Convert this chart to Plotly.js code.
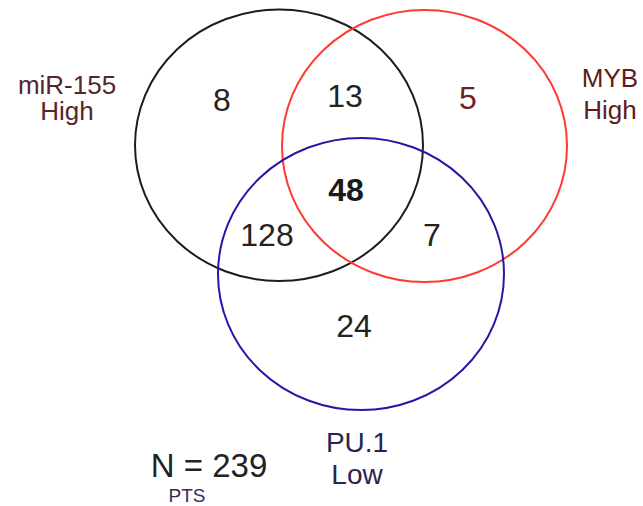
<!DOCTYPE html>
<html>
<head>
<meta charset="utf-8">
<script src="https://cdn.plot.ly/plotly-3.0.1.min.js"></script>
<style>html,body{margin:0;padding:0;background:#fff;}#chart{width:643px;height:506px;}</style>
</head>
<body>
<div id="chart"></div>
<script>
// ---- data ----
const setNames = ['miR-155', 'MYB', 'PU.1'];
const setLevels = ['High', 'High', 'Low'];
const regionNames = ['miR-155 only', 'miR-155 & MYB', 'MYB only', 'miR-155 & PU.1', 'all three', 'MYB & PU.1', 'PU.1 only'];
const regionCounts = [8, 13, 5, 128, 48, 7, 24];
const totalPatients = 239;
const totalLabel = 'N';
const totalSubscript = 'PTS';

// ---- layout (positions / styles) ----
const font = 'Liberation Sans, Arial, sans-serif';
const circleGeom = [ // [x0, y0, x1, y1] in plot pixel units
  [135, 9.5, 423, 281],
  [282, 10, 567, 282],
  [218, 138, 504, 410]
];
const circleColors = ['#1c1c1c', '#ff3b30', '#2b14a3'];
const regionPos = {x: [222, 345, 468, 267, 346, 432, 354], y: [103, 99, 101, 238, 193, 238, 329]};
const regionColors = ['#232323', '#232323', '#6e2222', '#232323', '#1a1a1a', '#232323', '#232323'];
const setLabelPos = [ {x: 67, y1: 87, y2: 113}, {x: 610, y1: 80, y2: 112}, {x: 357, y1: 445, y2: 477} ];
const setLabelColors = ['#55262a', '#5e1c1c', '#2a2550'];
const setLabelSizes = [26, 26, 28];

const traces = [];
traces.push({
  type: 'scatter', mode: 'text',
  x: regionPos.x, y: regionPos.y,
  text: regionCounts.map((c, i) => regionNames[i] === 'all three' ? '<b>' + c + '</b>' : String(c)),
  textposition: 'middle center',
  textfont: {family: font, size: 32, color: regionColors},
  hoverinfo: 'none', showlegend: false
});
traces.push({
  type: 'scatter', mode: 'text',
  x: setLabelPos.map(p => p.x).concat(setLabelPos.map(p => p.x)),
  y: setLabelPos.map(p => p.y1).concat(setLabelPos.map(p => p.y2)),
  text: setNames.concat(setLevels),
  textposition: 'middle center',
  textfont: {family: font, size: setLabelSizes.concat(setLabelSizes), color: setLabelColors.concat(setLabelColors)},
  hoverinfo: 'none', showlegend: false
});
traces.push({
  type: 'scatter', mode: 'text',
  x: [209, 187], y: [469, 497],
  text: [totalLabel + ' = ' + totalPatients, totalSubscript],
  textposition: 'middle center',
  textfont: {family: font, size: [33, 19], color: ['#232323', '#3a2a55']},
  hoverinfo: 'none', showlegend: false
});

const shapes = circleGeom.map((g, i) => ({
  type: 'circle', xref: 'x', yref: 'y',
  x0: g[0], y0: g[1], x1: g[2], y1: g[3],
  line: {color: circleColors[i], width: 2}, fillcolor: 'rgba(0,0,0,0)'
}));

const layout = {
  width: 643, height: 506,
  margin: {l: 0, r: 0, t: 0, b: 0, pad: 0},
  paper_bgcolor: '#fff', plot_bgcolor: '#fff',
  xaxis: {range: [0, 643], visible: false, fixedrange: true},
  yaxis: {range: [506, 0], visible: false, fixedrange: true},
  shapes: shapes,
  showlegend: false
};
Plotly.newPlot('chart', traces, layout, {displayModeBar: false, staticPlot: true});
</script>
</body>
</html>
